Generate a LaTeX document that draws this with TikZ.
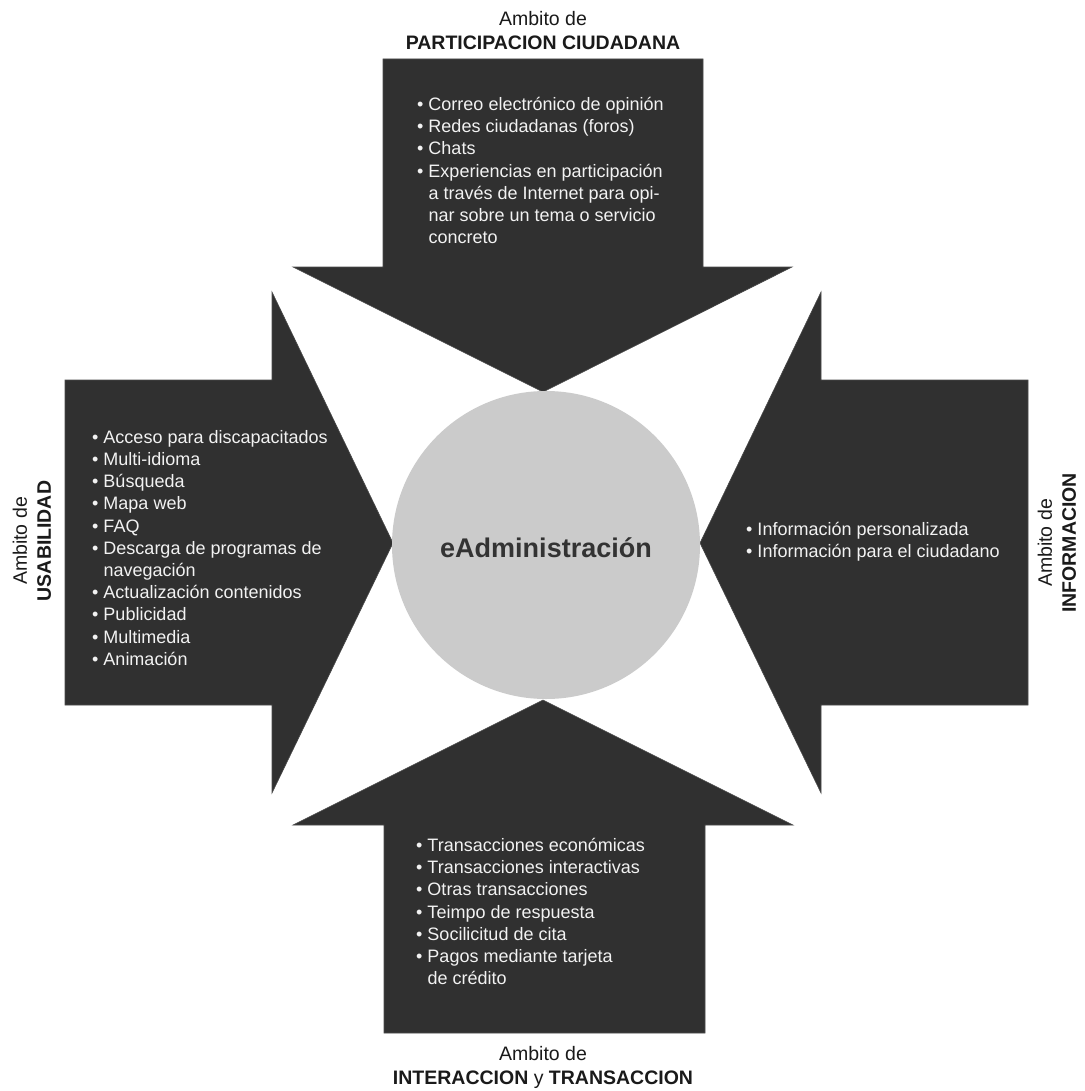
\documentclass[tikz,border=0pt]{standalone}
\usepackage{fontspec}
\setmainfont{Liberation Sans}
\definecolor{darkfill}{HTML}{303030}
\definecolor{darkedge}{HTML}{4A4A4A}
\definecolor{circfill}{HTML}{CBCBCB}
\definecolor{itemtext}{HTML}{F2F2F2}
\definecolor{headtext}{HTML}{1A1A1A}
\definecolor{centertext}{HTML}{333333}
\newcommand{\bul}{\textbullet\ }
\newcommand{\ind}{\hphantom{\textbullet\ }}
\begin{document}
\begin{tikzpicture}[x=1pt,y=-1pt,
  arrowshape/.style={fill=darkfill, draw=darkedge, line width=0.6pt, line join=miter},
  items/.style={anchor=north west, inner sep=0pt, align=left, text=itemtext, font=\fontsize{18}{22.2}\selectfont},
  heading/.style={align=center, inner sep=0pt, text=headtext, font=\fontsize{19.5}{24}\selectfont},
  centerlabel/.style={inner sep=0pt, text=centertext, font=\fontsize{27}{32}\selectfont\bfseries},
  hub/.style={circle, fill=circfill, minimum size=308pt, inner sep=0pt}
]
\useasboundingbox[fill=white] (0,0) rectangle (1084,1091);

% arrows
\draw[arrowshape] (383,59) -- (703,59) -- (703,267) -- (792,267) -- (543,392) -- (293,267) -- (383,267) -- cycle;
\draw[arrowshape] (65,380) -- (272,380) -- (272,292) -- (393,543) -- (272,793) -- (272,705) -- (65,705) -- cycle;
\draw[arrowshape] (1028,380) -- (821,380) -- (821,292) -- (700,543) -- (821,793) -- (821,705) -- (1028,705) -- cycle;
\draw[arrowshape] (384,1033) -- (705,1033) -- (705,825) -- (793,825) -- (543,700) -- (293,825) -- (384,825) -- cycle;

% hub
\node[hub] (hub) at (546,545) {};
\node[centerlabel] (hubtext) at (546,548) {eAdministración};

% item lists
\node[items] (ptop) at (417,97) {\bul Correo electrónico de opinión\\
\bul Redes ciudadanas (foros)\\
\bul Chats\\
\bul Experiencias en participación\\
\ind a través de Internet para opi-\\
\ind nar sobre un tema o servicio\\
\ind concreto};

\node[items] (pleft) at (92,430) {\bul Acceso para discapacitados\\
\bul Multi-idioma\\
\bul Búsqueda\\
\bul Mapa web\\
\bul FAQ\\
\bul Descarga de programas de\\
\ind navegación\\
\bul Actualización contenidos\\
\bul Publicidad\\
\bul Multimedia\\
\bul Animación};

\node[items] (pright) at (746,522) {\bul Información personalizada\\
\bul Información para el ciudadano};

\node[items] (pbottom) at (416,838) {\bul Transacciones económicas\\
\bul Transacciones interactivas\\
\bul Otras transacciones\\
\bul Teimpo de respuesta\\
\bul Socilicitud de cita\\
\bul Pagos mediante tarjeta\\
\ind de crédito};

% headings
\node[heading] (htop) at (543,31) {Ambito de\\\textbf{PARTICIPACION CIUDADANA}};
\node[heading] (hbottom) at (543,1067) {Ambito de\\\textbf{INTERACCION} y \textbf{TRANSACCION}};
\node[heading, rotate=90] (hleft) at (32,541) {Ambito de\\\textbf{USABILIDAD}};
\node[heading, rotate=90] (hright) at (1057,543) {Ambito de\\\textbf{INFORMACION}};
\end{tikzpicture}
\end{document}
